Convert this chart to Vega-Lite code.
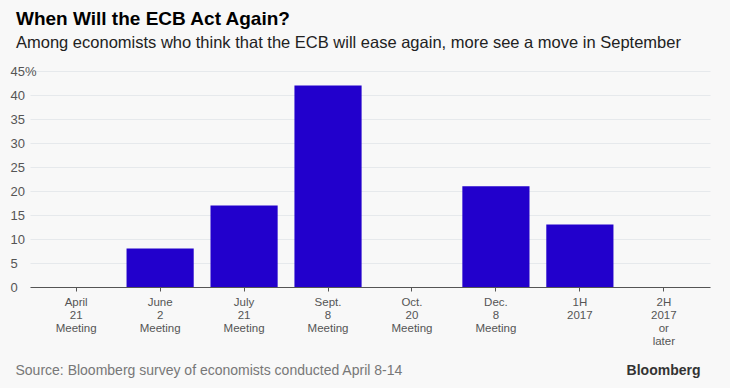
{
  "$schema": "https://vega.github.io/schema/vega-lite/v6.json",
  "width": 680,
  "height": 216,
  "autosize": {"type": "none"},
  "padding": {"left": 30, "top": 71, "right": 20, "bottom": 101},
  "background": "#f8f8f8",
  "title": {
    "text": "When Will the ECB Act Again?",
    "subtitle": "Among economists who think that the ECB will ease again, more see a move in September",
    "anchor": "start",
    "frame": "group",
    "dx": -14,
    "offset": 14,
    "font": "Liberation Sans",
    "fontSize": 19,
    "fontWeight": "bold",
    "color": "#000000",
    "subtitleFont": "Liberation Sans",
    "subtitleFontSize": 16.5,
    "subtitleColor": "#222222",
    "subtitlePadding": 6
  },
  "data": {
    "values": [
      {"label": "April|21|Meeting", "value": 0},
      {"label": "June|2|Meeting", "value": 8},
      {"label": "July|21|Meeting", "value": 17},
      {"label": "Sept.|8|Meeting", "value": 42},
      {"label": "Oct.|20|Meeting", "value": 0},
      {"label": "Dec.|8|Meeting", "value": 21},
      {"label": "1H|2017", "value": 13},
      {"label": "2H|2017|or|later", "value": 0}
    ]
  },
  "mark": {"type": "bar", "color": "#2200cc"},
  "encoding": {
    "x": {
      "field": "label",
      "type": "nominal",
      "sort": null,
      "scale": {"paddingInner": 0.2, "paddingOuter": 0.15},
      "axis": {
        "title": "Source: Bloomberg survey of economists conducted April 8-14",
        "titleX": -15,
        "titleY": 87,
        "titleAlign": "left",
        "titleBaseline": "alphabetic",
        "titleFont": "Liberation Sans",
        "titleFontSize": 14,
        "titleFontWeight": "normal",
        "titleColor": "#777777",
        "labelExpr": "split(datum.label, '|')",
        "labelAngle": 0,
        "labelFont": "Liberation Sans",
        "labelFontSize": 11.5,
        "labelLineHeight": 13,
        "labelColor": "#555555",
        "labelPadding": 5,
        "tickSize": 4,
        "tickColor": "#555555",
        "domainColor": "#555555",
        "grid": false
      }
    },
    "y": {
      "field": "value",
      "type": "quantitative",
      "scale": {"domain": [0, 45], "nice": false},
      "axis": {
        "values": [0, 5, 10, 15, 20, 25, 30, 35, 40, 45],
        "labelExpr": "datum.value == 45 ? '45%' : datum.label",
        "labelAlign": "left",
        "labelPadding": 20,
        "ticks": false,
        "tickSize": 0,
        "domain": false,
        "labelFont": "Liberation Sans",
        "labelFontSize": 13,
        "labelColor": "#555555",
        "gridColor": "#e6e9ec",
        "title": "Bloomberg",
        "titleAngle": 0,
        "titleX": 670,
        "titleY": 303,
        "titleAlign": "right",
        "titleBaseline": "alphabetic",
        "titleFont": "Liberation Sans",
        "titleFontSize": 14,
        "titleFontWeight": "bold",
        "titleColor": "#333333"
      }
    }
  },
  "config": {"view": {"stroke": null}}
}
